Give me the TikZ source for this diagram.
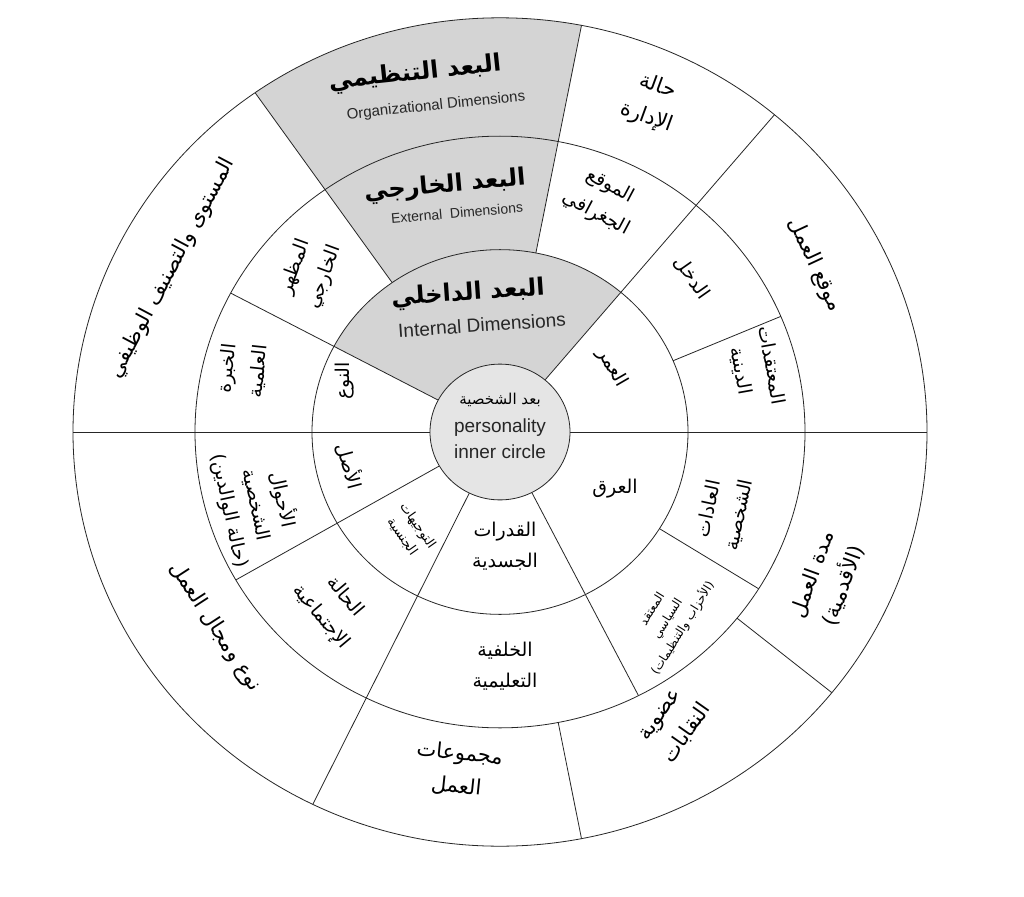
\documentclass[tikz,border=0pt]{standalone}
\usepackage{fontspec}
\setmainfont{Liberation Sans}
\newfontfamily\arabicfont[Script=Arabic]{DejaVu Sans}
\newfontfamily\arabicbold[Script=Arabic]{DejaVu Sans Bold}
\TeXXeTstate=1
\newcommand{\AR}[1]{{\arabicfont\beginR #1\endR}}
\newcommand{\ARB}[1]{{\arabicbold\beginR #1\endR}}
\newcommand{\ARP}[1]{{\arabicfont)}\AR{#1}{\arabicfont(}}
\begin{document}
\begin{tikzpicture}[x=1pt,y=-1pt,
  lab/.style={font=\fontsize{19}{31}\selectfont,align=center,inner sep=1pt},
  outer/.style={font=\fontsize{21}{33}\selectfont,align=center,inner sep=1pt},
  small/.style={font=\fontsize{12}{18}\selectfont,align=center,inner sep=1pt},
  big/.style={font=\fontsize{24}{28}\selectfont,inner sep=1pt},
  eng/.style={font=\fontsize{15}{18}\selectfont,inner sep=1pt,text=black!85},
  ln/.style={draw=black!85,line width=0.8pt}]
\useasboundingbox (0,0) rectangle (1024,896);
\fill[white] (0,0) rectangle (1024,896);
\begin{scope}[shift={(500,432)},x={(1pt,0pt)},y={(0pt,0.97pt)}]
  \fill[black!17] (50:70) arc[start angle=50,end angle=152,radius=70] -- (152:188) arc[start angle=152,end angle=50,radius=188] -- cycle;
  \fill[black!17] (79:188) arc[start angle=79,end angle=125,radius=188] -- (125:427) arc[start angle=125,end angle=79,radius=427] -- cycle;
  \foreach \r in {188,305,427} \draw[ln] (0,0) circle[radius=\r];
  \foreach \a in {50,0,180,-116} \draw[ln] (\a:70) -- (\a:427);
  \foreach \a in {152,-63,-150} \draw[ln] (\a:70) -- (\a:305);
  \foreach \a in {125,79} \draw[ln] (\a:188) -- (\a:427);
  \foreach \a in {23,-32} \draw[ln] (\a:188) -- (\a:305);
  \foreach \a in {-39,-79} \draw[ln] (\a:305) -- (\a:427);
  \draw[ln,fill=black!10] (0,0) circle[radius=70];
\end{scope}
% centre
\node[lab,font=\fontsize{15}{18}\selectfont] (c1) at (500,400) {\AR{بعد الشخصية}};
\node[lab,font=\fontsize{19}{22}\selectfont,text=black!85] (c2) at (500,428) {personality};
\node[lab,font=\fontsize{19}{22}\selectfont,text=black!85] (c3) at (500,452) {inner circle};
% gray headings
\node[big,rotate=6] (o1) at (415,74) {\ARB{البعد التنظيمي}};
\node[eng,rotate=6] (o2) at (436,106) {Organizational Dimensions};
\node[big,rotate=5] (e1) at (445,186) {\ARB{البعد الخارجي}};
\node[eng,font=\fontsize{14}{17}\selectfont,rotate=5] (e2) at (457,213) {External\ \ Dimensions};
\node[big,rotate=4] (i1) at (468,294) {\ARB{البعد الداخلي}};
\node[eng,font=\fontsize{19}{22}\selectfont,rotate=4] (i2) at (482,325) {Internal Dimensions};
% outer ring
\node[outer,rotate=-20] (r1) at (652,102) {\AR{حالة}\\\AR{الإدارة}};
\node[outer,rotate=-65] (r2) at (815,265) {\AR{موقع العمل}};
\node[outer,rotate=70] (r3) at (828,580) {\AR{مدة العمل}\\\ARP{الأقدمية}};
\node[outer,rotate=55] (r4) at (675,725) {\AR{عضوية}\\\AR{النقابات}};
\node[outer,rotate=-6] (r5) at (458,770) {\AR{مجموعات}\\\AR{العمل}};
\node[outer,rotate=-57] (r6) at (215,627) {\AR{نوع ومجال العمل}};
\node[outer,rotate=62] (r7) at (172,268) {\AR{المستوى والتصنيف الوظيفي}};
% third ring
\node[lab,rotate=-28] (t1) at (603,200) {\AR{الموقع}\\\AR{الجغرافي}};
\node[lab,rotate=-55] (t2) at (692,278) {\AR{الدخل}};
\node[lab,rotate=-80] (t3) at (756,368) {\AR{المعتقدات}\\\AR{الدينية}};
\node[lab,rotate=78] (t4) at (724,512) {\AR{العادات}\\\AR{الشخصية}};
\node[small,rotate=58] (t5) at (668,619) {\AR{المعتقد}\\\AR{السياسي}\\\ARP{الأحزاب والتنظيمات}};
\node[lab] (t6) at (505,666) {\AR{الخلفية}\\\AR{التعليمية}};
\node[lab,rotate=-50] (t7) at (333,607) {\AR{الحالة}\\\AR{الإجتماعية}};
\node[lab,font=\fontsize{19}{27}\selectfont,rotate=-78] (t8) at (257,505) {\AR{الأحوال}\\\AR{الشخصية}\\\ARP{حالة الوالدين}};
\node[lab,rotate=84] (t9) at (243,370) {\AR{الخبرة}\\\AR{العلمية}};
\node[lab,rotate=70] (t10) at (310,272) {\AR{المظهر}\\\AR{الخارجي}};
% second ring
\node[lab,rotate=-60] (s1) at (612,368) {\AR{العمر}};
\node[lab] (s2) at (615,489) {\AR{العرق}};
\node[lab] (s3) at (505,546) {\AR{القدرات}\\\AR{الجسدية}};
\node[small,font=\fontsize{13}{19}\selectfont,rotate=-55] (s4) at (410,531) {\AR{التوجيهات}\\\AR{الجنسية}};
\node[lab,rotate=-75] (s5) at (350,466) {\AR{الأصل}};
\node[lab,rotate=90] (s6) at (345,381) {\AR{النوع}};
\end{tikzpicture}
\end{document}
